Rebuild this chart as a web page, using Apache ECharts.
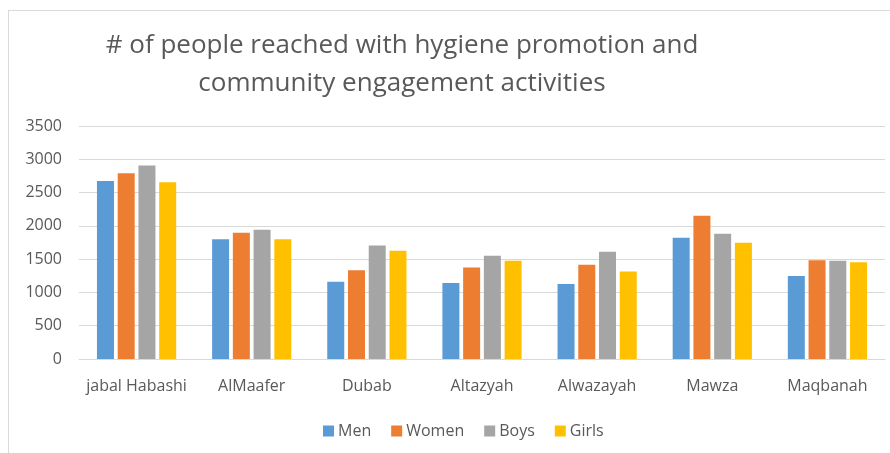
<!DOCTYPE html>
<html>
<head>
<meta charset="utf-8">
<script src="https://cdn.jsdelivr.net/npm/echarts@6/dist/echarts.min.js"></script>
<style>
  html, body { margin: 0; padding: 0; background: #fff; }
  #frame { position: absolute; left: 8px; top: 10px; width: 900px; height: 460px;
           border-left: 1px solid #d9d9d9; border-top: 1px solid #d9d9d9; }
  #chart { width: 890px; height: 453px; }
</style>
</head>
<body>
<div id="frame"></div>
<div id="chart"></div>
<script>
// districts
const categories = ['jabal Habashi', 'AlMaafer', 'Dubab', 'Altazyah', 'Alwazayah', 'Mawza', 'Maqbanah'];
// people reached
const men   = [2675, 1800, 1160, 1140, 1125, 1820, 1245];
const women = [2790, 1895, 1335, 1375, 1415, 2150, 1485];
const boys  = [2905, 1940, 1705, 1550, 1610, 1880, 1475];
const girls = [2655, 1800, 1625, 1475, 1315, 1745, 1455];
const seriesNames = ['Men', 'Women', 'Boys', 'Girls'];
const colors = ['#5B9BD5', '#ED7D31', '#A5A5A5', '#FFC000'];

const font = 'Open Sans';
const myChart = echarts.init(document.getElementById('chart'), null, { renderer: 'canvas' });

myChart.setOption({
    animation: false,
    color: colors,
    title: {
        text: '# of people reached with hygiene promotion and\ncommunity engagement activities',
        left: 397,
        top: 22,
        textAlign: 'center',
        textStyle: {
            fontFamily: font,
            fontWeight: 'normal',
            fontSize: 26,
            lineHeight: 38,
            color: '#595959'
        }
    },
    legend: {
        data: seriesNames,
        left: 318,
        top: 418,
        itemWidth: 11,
        itemHeight: 11,
        itemGap: 20,
        icon: 'rect',
        textStyle: { fontFamily: font, fontSize: 16, color: '#595959', padding: [0, 0, 0, -1] }
    },
    grid: { left: 79, right: 5, top: 126, bottom: 94, containLabel: false },
    xAxis: {
        type: 'category',
        data: categories,
        axisTick: { show: false },
        axisLine: { lineStyle: { color: '#d9d9d9', width: 1 } },
        axisLabel: { interval: 0, fontFamily: font, fontSize: 16, color: '#595959', margin: 19 }
    },
    yAxis: {
        type: 'value',
        min: 0,
        max: 3500,
        interval: 500,
        axisLine: { show: false },
        axisTick: { show: false },
        splitLine: { lineStyle: { color: '#d9d9d9', width: 1 } },
        axisLabel: { fontFamily: font, fontSize: 16, color: '#595959', margin: 17, formatter: v => String(v) }
    },
    series: [men, women, boys, girls].map((vals, i) => ({
        name: seriesNames[i],
        type: 'bar',
        data: vals,
        barWidth: 17,
        barGap: '22%',
        barCategoryGap: '30%'
    }))
});
</script>
</body>
</html>
